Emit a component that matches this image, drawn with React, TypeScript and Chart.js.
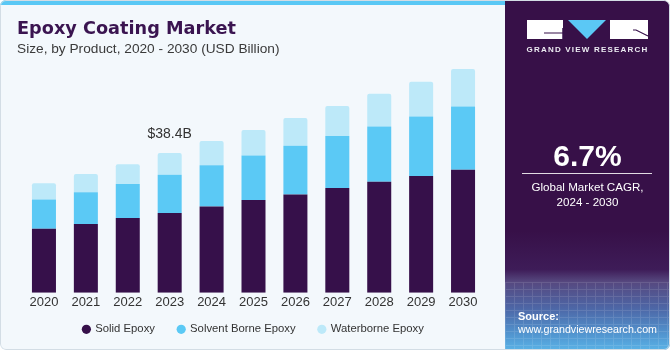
import React, { useEffect, useRef } from "react";
import { Chart, registerables } from "chart.js";

Chart.register(...registerables);

const years = ["2020", "2021", "2022", "2023", "2024", "2025", "2026", "2027", "2028", "2029", "2030"];
const solidEpoxy = [17.6, 18.9, 20.5, 21.9, 23.7, 25.5, 27.0, 28.8, 30.5, 32.1, 33.8];
const solventBorneEpoxy = [8.0, 8.7, 9.4, 10.5, 11.3, 12.2, 13.4, 14.3, 15.2, 16.3, 17.4];
const waterborneEpoxy = [4.5, 5.0, 5.4, 6.0, 6.7, 7.0, 7.6, 8.2, 9.0, 9.6, 10.3];
const seriesNames = ["Solid Epoxy", "Solvent Borne Epoxy", "Waterborne Epoxy"];
const calloutIndex = 3;
const calloutLabel = "$38.4B";

const FONT = "'Liberation Sans', Arial, sans-serif";
const COL_SOLID = "#36104a";
const COL_SOLVENT = "#5bc9f5";
const COL_WATER = "#bde9f9";

const calloutPlugin = {
  id: "callout",
  afterDatasetsDraw(chart: any) {
    const xs = chart.scales.x;
    const ys = chart.scales.y;
    const total = solidEpoxy[calloutIndex] + solventBorneEpoxy[calloutIndex] + waterborneEpoxy[calloutIndex];
    const ctx = chart.ctx;
    ctx.save();
    ctx.font = `14px ${FONT}`;
    ctx.fillStyle = "#333333";
    ctx.textAlign = "center";
    ctx.textBaseline = "middle";
    ctx.fillText(calloutLabel, xs.getPixelForValue(calloutIndex), ys.getPixelForValue(total) - 19);
    ctx.restore();
  },
};

function EpoxyChart() {
  const ref = useRef<HTMLCanvasElement>(null);
  useEffect(() => {
    if (!ref.current) return;
    const chart = new Chart(ref.current, {
      type: "bar",
      data: {
        labels: years,
        datasets: [
          { label: seriesNames[0], data: solidEpoxy, backgroundColor: COL_SOLID, borderWidth: 0 },
          { label: seriesNames[1], data: solventBorneEpoxy, backgroundColor: COL_SOLVENT, borderWidth: 0 },
          {
            label: seriesNames[2],
            data: waterborneEpoxy,
            backgroundColor: COL_WATER,
            borderWidth: 0,
            borderRadius: { topLeft: 2, topRight: 2, bottomLeft: 0, bottomRight: 0 },
            borderSkipped: false,
          },
        ],
      },
      options: {
        responsive: false,
        animation: false,
        datasets: { bar: { barPercentage: 0.573, categoryPercentage: 1 } },
        layout: { padding: { top: 38, left: 23, right: 21, bottom: 0 } },
        plugins: {
          legend: {
            position: "bottom",
            labels: {
              usePointStyle: true,
              pointStyle: "circle",
              boxWidth: 6.5,
              boxHeight: 6.5,
              padding: 23,
              color: "#333333",
              font: { family: FONT, size: 11.3 },
            },
          },
          tooltip: { enabled: false },
        },
        scales: {
          x: {
            stacked: true,
            grid: { display: false, drawTicks: false },
            border: { display: false },
            ticks: { color: "#333333", font: { family: FONT, size: 13 }, padding: 2 },
            afterFit: (s: any) => {
              s.height = 8;
              s._computeLabelArea = () => undefined;
            },
          },
          y: { stacked: true, display: false, min: 0, max: 70 },
        },
      } as any,
      plugins: [calloutPlugin],
    });
    return () => chart.destroy();
  }, []);
  return <canvas ref={ref} width={505} height={345} style={{ display: "block", width: 505, height: 345 }} />;
}

function Logo() {
  return (
    <svg width={124} height={22} viewBox="0 0 124 22" style={{ position: "absolute", left: 22, top: 19 }}>
      <rect x={0} y={1} width={36} height={19} fill="#ffffff" />
      <polyline points="17,14 36,14" stroke="#36104a" strokeWidth={1.2} fill="none" />
      <polyline points="36,9 36,20" stroke="#36104a" strokeWidth={1.5} fill="none" />
      <polygon points="41,1 79,1 60,20" fill="#5bc8f5" />
      <rect x={83} y={1} width={38} height={19} fill="#ffffff" />
      <polyline points="106,11 109,11 121,17" stroke="#36104a" strokeWidth={1.2} fill="none" />
    </svg>
  );
}

export default function App() {
  return (
    <div
      style={{
        position: "fixed",
        left: 0,
        top: 0,
        width: 670,
        height: 350,
        overflow: "hidden",
        background: "#f3f8fc",
        borderRadius: 6,
        fontFamily: FONT,
      }}
    >
      <div style={{ position: "absolute", left: 0, top: 0, width: 506, height: 5, background: "#5ac8f5" }} />
      <div style={{ position: "absolute", left: 0, top: 0 }}>
        <EpoxyChart />
      </div>
      <div
        style={{
          position: "absolute",
          left: 17,
          top: 19,
          fontFamily: "'DejaVu Sans', sans-serif",
          fontWeight: 700,
          fontSize: 17.7,
          lineHeight: "18px",
          color: "#3a1450",
          whiteSpace: "nowrap",
        }}
      >
        Epoxy Coating Market
      </div>
      <div
        style={{
          position: "absolute",
          left: 17,
          top: 41,
          fontSize: 13.7,
          lineHeight: "15px",
          color: "#3a3a3a",
          whiteSpace: "nowrap",
        }}
      >
        Size, by Product, 2020 - 2030 (USD Billion)
      </div>
      <div
        style={{
          position: "absolute",
          left: 505,
          top: 0,
          width: 165,
          height: 350,
          borderTopRightRadius: 8,
          overflow: "hidden",
          background:
            "linear-gradient(to bottom, #371048 0%, #371048 66%, #3e1c58 77%, #56487f 80.5%, #4d66a6 88%, #5298d2 96%, #5ab2e6 100%)",
        }}
      >
        <div
          style={{
            position: "absolute",
            left: 0,
            top: 282,
            width: 165,
            height: 68,
            opacity: 0.12,
            backgroundImage:
              "repeating-linear-gradient(to right, rgba(255,255,255,0.9) 0px, rgba(255,255,255,0.9) 1px, transparent 1px, transparent 9px), repeating-linear-gradient(to bottom, rgba(255,255,255,0.9) 0px, rgba(255,255,255,0.9) 1px, transparent 1px, transparent 7px)",
          }}
        />
        <Logo />
        <div
          style={{
            position: "absolute",
            left: 0,
            width: 165,
            top: 45,
            textAlign: "center",
            color: "#ecebf2",
            fontWeight: 700,
            fontSize: 8,
            letterSpacing: 1.2,
            lineHeight: "10px",
            whiteSpace: "nowrap",
          }}
        >
          GRAND VIEW RESEARCH
        </div>
        <div
          style={{
            position: "absolute",
            left: 0,
            width: 165,
            top: 140,
            textAlign: "center",
            color: "#ffffff",
            fontWeight: 700,
            fontSize: 30,
            lineHeight: "32px",
          }}
        >
          6.7%
        </div>
        <div style={{ position: "absolute", left: 17, top: 173, width: 130, height: 1, background: "rgba(255,255,255,0.85)" }} />
        <div
          style={{
            position: "absolute",
            left: 0,
            width: 165,
            top: 179,
            textAlign: "center",
            color: "#ffffff",
            fontSize: 11.6,
            lineHeight: "15px",
          }}
        >
          Global Market CAGR,
          <br />
          2024 - 2030
        </div>
        <div
          style={{
            position: "absolute",
            left: 13,
            top: 310,
            color: "#ffffff",
            fontSize: 11,
            lineHeight: "13px",
            whiteSpace: "nowrap",
          }}
        >
          <div style={{ fontWeight: 700 }}>Source:</div>
          <div style={{ fontSize: 10.7 }}>www.grandviewresearch.com</div>
        </div>
      </div>
      <div
        style={{
          position: "absolute",
          left: 0,
          top: 0,
          width: 670,
          height: 350,
          boxSizing: "border-box",
          border: "1px solid #d3dde5",
          borderRadius: 6,
          pointerEvents: "none",
        }}
      />
    </div>
  );
}
